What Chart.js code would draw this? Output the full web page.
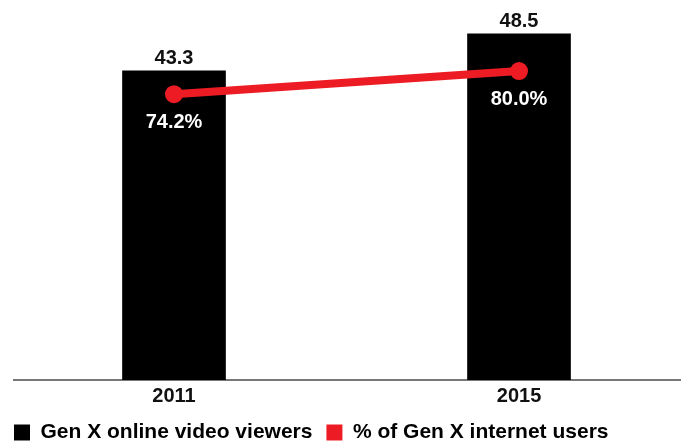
<!DOCTYPE html>
<html>
<head>
<meta charset="utf-8">
<script src="https://cdn.jsdelivr.net/npm/chart.js@4"></script>
<style>
  html, body { margin: 0; padding: 0; background: #fff; }
  #wrap { width: 681px; height: 442px; }
</style>
</head>
<body>
<div id="wrap"><canvas id="viewersChart"></canvas></div>
<script>
// Gen X online video viewers (millions) and share of Gen X internet users
const years = [2011, 2015];
const viewers = [43.3, 48.5];
const shareOfUsers = [74.2, 80.0];
const seriesNames = ['Gen X online video viewers', '% of Gen X internet users'];

const RED = '#ed1c24';
const FONT = 'Liberation Sans, Arial, sans-serif';

// value labels: above the bars, below the line points
const valueLabels = {
    id: 'valueLabels',
    afterDatasetsDraw(chart) {
        const c = chart.ctx;
        c.save();
        c.font = `bold 20px ${FONT}`;
        c.textAlign = 'center';
        c.textBaseline = 'alphabetic';

        chart.getDatasetMeta(0).data.forEach((bar, i) => {
            c.fillStyle = '#111';
            c.fillText(viewers[i].toFixed(1), bar.x, bar.y - 7);
        });
        chart.getDatasetMeta(1).data.forEach((pt, i) => {
            c.fillStyle = '#fff';
            c.fillText(shareOfUsers[i].toFixed(1) + '%', pt.x, pt.y + 34);
        });
        c.restore();
    }
};

const ctx = document.getElementById('viewersChart').getContext('2d');

new Chart(ctx, {
    type: 'bar',
    data: {
        datasets: [
            {
                label: seriesNames[0],
                data: years.map((y, i) => ({ x: y, y: viewers[i] })),
                backgroundColor: '#000',
                barThickness: 103,
                yAxisID: 'y',
                order: 1
            },
            {
                type: 'line',
                label: seriesNames[1],
                data: years.map((y, i) => ({ x: y, y: shareOfUsers[i] })),
                borderColor: RED,
                backgroundColor: RED,
                borderWidth: 8,
                pointRadius: 9,
                pointHoverRadius: 9,
                pointBackgroundColor: RED,
                pointBorderWidth: 0,
                yAxisID: 'y2',
                order: 0
            }
        ]
    },
    options: {
        responsive: true,
        maintainAspectRatio: false,
        animation: false,
        layout: {
            autoPadding: false,
            padding: { top: 23, left: 0, right: 0, bottom: -11 }
        },
        scales: {
            x: {
                type: 'linear',
                offset: false,
                min: 2009.145,
                max: 2016.878,
                afterBuildTicks: scale => { scale.ticks = years.map(v => ({ value: v })); },
                afterFit: s => { s.height = 28; },
                grid: { display: false, drawTicks: false },
                border: { display: true, color: '#777', width: 2 },
                ticks: {
                    autoSkip: false,
                    maxRotation: 0,
                    padding: 4,
                    color: '#111',
                    font: { family: FONT, size: 20, weight: 'bold' },
                    callback: v => String(v)
                }
            },
            y: {
                min: 0,
                max: 50,
                afterFit: s => { s.width = 14; },
                grid: { display: false },
                border: { display: false },
                ticks: { display: false }
            },
            y2: {
                display: false,
                min: 2.3,
                max: 92.1
            }
        },
        plugins: {
            tooltip: { enabled: false },
            legend: {
                position: 'bottom',
                align: 'start',
                labels: {
                    boxWidth: 16,
                    boxHeight: 16,
                    padding: 14,
                    color: '#111',
                    font: { family: FONT, size: 21, weight: 'bold' },
                    sort: (a, b) => a.datasetIndex - b.datasetIndex,
                    generateLabels: chart => chart.data.datasets.map((ds, i) => ({
                        text: ds.label,
                        fillStyle: ds.backgroundColor,
                        strokeStyle: ds.backgroundColor,
                        lineWidth: 0,
                        datasetIndex: i
                    }))
                }
            }
        }
    },
    plugins: [valueLabels]
});
</script>
</body>
</html>
